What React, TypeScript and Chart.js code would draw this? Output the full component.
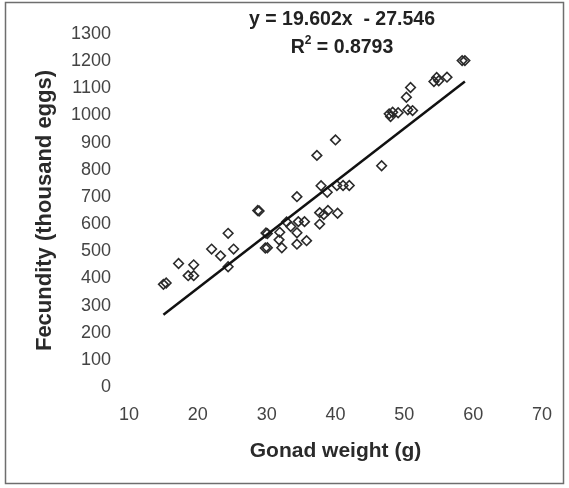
import React, { useEffect, useRef } from "react";
import { Chart, registerables } from "chart.js";

Chart.register(...registerables);

const gonadWeight = [
  15.0, 15.4, 17.2, 18.6, 19.4, 19.4, 22.0, 23.3, 24.4, 24.4, 25.2,
  28.7, 28.9, 29.9, 30.1, 29.8, 30.1, 31.9, 31.8, 32.2, 32.9, 33.5,
  34.4, 34.4, 34.4, 34.6, 35.5, 35.8, 37.3, 37.7, 37.7, 37.9, 38.3,
  38.8, 38.9, 40.0, 40.2, 40.3, 41.1, 42.0, 46.7, 47.8, 48.0, 48.3,
  49.1, 50.3, 50.9, 50.5, 51.2, 54.3, 54.7, 55.0, 56.2, 58.4, 58.8,
];
const fecundity = [
  378, 383, 455, 410, 410, 450, 508, 483, 566, 443, 508,
  650, 648, 567, 565, 512, 513, 570, 542, 513, 608, 591,
  701, 568, 526, 609, 609, 539, 853, 642, 600, 741, 635,
  717, 650, 910, 742, 640, 742, 742, 815, 1006, 996, 1012,
  1010, 1067, 1103, 1021, 1018, 1125, 1140, 1128, 1141, 1202, 1202,
];
const slope = 19.602;
const intercept = -27.546;
const rSquared = "0.8793";
const xRange = [10, 70];
const yRange = [0, 1300];
const xTitle = "Gonad weight (g)";
const yTitle = "Fecundity (thousand eggs)";

const FONT = "'Liberation Sans', Arial, sans-serif";

export default function App() {
  const ref = useRef<HTMLCanvasElement | null>(null);

  useEffect(() => {
    document.body.style.margin = "0";
    const canvas = ref.current;
    if (!canvas) return;

    const points = gonadWeight.map((x, i) => ({ x, y: fecundity[i] }));
    const minX = Math.min(...gonadWeight);
    const maxX = Math.max(...gonadWeight);
    const trend = [minX, maxX].map((x) => ({ x, y: slope * x + intercept }));

    const framePlugin = {
      id: "frame",
      beforeDraw(chart: any) {
        const { ctx, width, height } = chart;
        ctx.save();
        ctx.fillStyle = "#ffffff";
        ctx.fillRect(0, 0, width, height);
        ctx.strokeStyle = "#6e6e6e";
        ctx.lineWidth = 1.5;
        ctx.strokeRect(5.5, 2.5, width - 11, height - 7);
        ctx.restore();
      },
      afterDraw(chart: any) {
        const { ctx } = chart;
        const cx = 342;
        ctx.save();
        ctx.fillStyle = "#222222";
        ctx.textBaseline = "middle";
        ctx.textAlign = "center";
        ctx.font = `bold 19.5px ${FONT}`;
        const sign = intercept < 0 ? "-" : "+";
        ctx.fillText(
          `y = ${slope}x  ${sign} ${Math.abs(intercept)}`,
          cx,
          20
        );
        const main = "R";
        const rest = ` = ${rSquared}`;
        ctx.font = `bold 19.5px ${FONT}`;
        const wR = ctx.measureText(main).width;
        const wRest = ctx.measureText(rest).width;
        ctx.font = `bold 12px ${FONT}`;
        const wSup = ctx.measureText("2").width;
        const total = wR + wSup + wRest;
        let x = cx - total / 2;
        ctx.textAlign = "left";
        ctx.font = `bold 19.5px ${FONT}`;
        ctx.fillText(main, x, 48);
        x += wR;
        ctx.font = `bold 12px ${FONT}`;
        ctx.fillText("2", x, 41);
        x += wSup;
        ctx.font = `bold 19.5px ${FONT}`;
        ctx.fillText(rest, x, 48);
        ctx.restore();
      },
    };

    const chart = new Chart(canvas, {
      type: "scatter",
      data: {
        datasets: [
          {
            type: "line",
            data: trend,
            borderColor: "#111111",
            borderWidth: 2.5,
            pointRadius: 0,
            fill: false,
          } as any,
          {
            data: points,
            pointStyle: "rectRot",
            pointRadius: 4.8,
            borderWidth: 1.6,
            borderColor: "#2a2a2a",
            backgroundColor: "rgba(255,255,255,0)",
          },
        ],
      },
      options: {
        animation: false,
        responsive: false,
        maintainAspectRatio: false,
        plugins: {
          legend: { display: false },
          tooltip: { enabled: false },
        },
        layout: { padding: { left: 22, top: 34, right: 25, bottom: 8 } },
        scales: {
          x: {
            type: "linear",
            min: xRange[0],
            max: xRange[1],
            grid: { display: false, drawTicks: false },
            border: { display: false },
            ticks: {
              stepSize: 10,
              padding: 17,
              color: "#444444",
              font: { family: FONT, size: 18 },
              callback: (v: any) => String(v),
            },
            title: {
              display: true,
              text: xTitle,
              color: "#2a2a2a",
              font: { family: FONT, size: 21, weight: "bold" },
              padding: { top: 0, bottom: 16 },
            },
            afterFit(scale: any) {
              scale.height = 488 - 387 - 8;
            },
          },
          y: {
            type: "linear",
            min: yRange[0],
            max: yRange[1],
            grid: { display: false, drawTicks: false },
            border: { display: false },
            ticks: {
              stepSize: 100,
              padding: 18,
              color: "#444444",
              font: { family: FONT, size: 18 },
              callback: (v: any) => String(v),
            },
            title: {
              display: true,
              text: yTitle,
              color: "#2a2a2a",
              font: { family: FONT, size: 22, weight: "bold" },
              padding: { top: 10, bottom: 0 },
            },
            afterFit(scale: any) {
              scale.width = 129 - 22;
            },
          },
        },
      },
      plugins: [framePlugin],
    });

    return () => chart.destroy();
  }, []);

  return (
    <div style={{ width: 569, height: 488 }}>
      <canvas ref={ref} width={569} height={488} style={{ display: "block" }} />
    </div>
  );
}
